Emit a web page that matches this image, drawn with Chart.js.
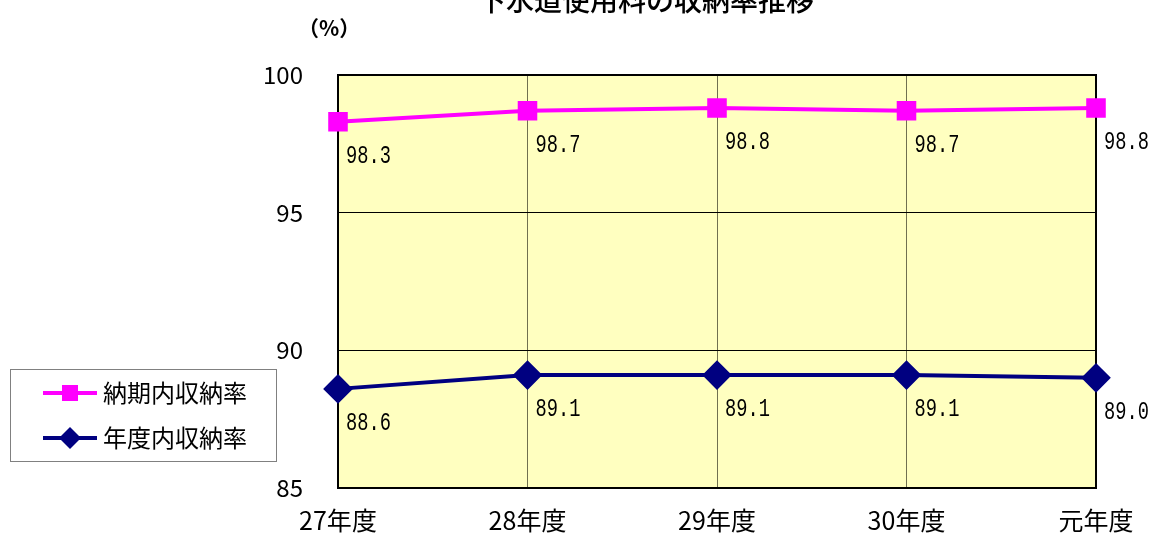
<!DOCTYPE html>
<html>
<head>
<meta charset="utf-8">
<script src="https://cdn.jsdelivr.net/npm/chart.js@4"></script>
<style>
  html, body { margin: 0; padding: 0; background: #fff; }
  #wrap { width: 1158px; height: 534px; }
</style>
</head>
<body>
<div id="wrap"><canvas id="rateChart" width="1158" height="534"></canvas></div>
<script>
const years = ['27年度', '28年度', '29年度', '30年度', '元年度'];
const nokiRate = [98.3, 98.7, 98.8, 98.7, 98.8];   // 納期内収納率
const nendoRate = [88.6, 89.1, 89.1, 89.1, 89.0];  // 年度内収納率
const yTicks = [85, 90, 95, 100];
const titleText = '下水道使用料の収納率推移';
const unitText = '（%）';

const jp = '"Noto Sans CJK JP", "Noto Sans", sans-serif';

// 背景・枠・タイトル・凡例・数値ラベル
const decor = {
    id: 'decor',
    beforeDraw(chart) {
        const { ctx, chartArea: a } = chart;
        ctx.save();
        ctx.fillStyle = '#ffffc0';
        ctx.fillRect(a.left, a.top, a.right - a.left, a.bottom - a.top);
        ctx.restore();
    },
    beforeDatasetsDraw(chart) {
        const { ctx, chartArea: a } = chart;
        ctx.save();
        ctx.strokeStyle = '#000';
        ctx.lineWidth = 2;
        ctx.strokeRect(a.left, a.top, a.right - a.left, a.bottom - a.top);
        ctx.restore();
    },
    afterDraw(chart) {
        const { ctx } = chart;
        ctx.save();
        // title (top is clipped in the original)
        ctx.fillStyle = '#000';
        ctx.font = '500 28px ' + jp;
        ctx.textAlign = 'center';
        ctx.textBaseline = 'middle';
        ctx.fillText(titleText, 646, 0);
        // unit
        ctx.font = 'bold 21px ' + jp;
        ctx.textAlign = 'left';
        ctx.fillText(unitText, 298, 28);

        // data labels (narrow monospace look)
        ctx.font = '26px "Liberation Mono", "DejaVu Sans Mono", monospace';
        ctx.textAlign = 'left';
        chart.data.datasets.forEach((ds, i) => {
            const meta = chart.getDatasetMeta(i);
            meta.data.forEach((pt, j) => {
                ctx.save();
                ctx.translate(pt.x + 8, pt.y + 34);
                ctx.scale(0.72, 1);
                ctx.fillText(ds.data[j].toFixed(1), 0, 0);
                ctx.restore();
            });
        });

        // legend
        ctx.strokeStyle = '#808080';
        ctx.lineWidth = 1;
        ctx.strokeRect(10.5, 369.5, 266, 92);
        const rows = [393, 438];
        chart.data.datasets.forEach((ds, i) => {
            const y = rows[i];
            ctx.strokeStyle = ds.borderColor;
            ctx.lineWidth = 4;
            ctx.beginPath();
            ctx.moveTo(43, y);
            ctx.lineTo(97, y);
            ctx.stroke();
            ctx.fillStyle = ds.borderColor;
            if (ds.pointStyle === 'rect') {
                ctx.fillRect(62, y - 8, 16, 16);
            } else {
                ctx.beginPath();
                ctx.moveTo(70, y - 11);
                ctx.lineTo(81, y);
                ctx.lineTo(70, y + 11);
                ctx.lineTo(59, y);
                ctx.closePath();
                ctx.fill();
            }
            ctx.fillStyle = '#000';
            ctx.font = '24px ' + jp;
            ctx.textBaseline = 'middle';
            ctx.fillText(ds.label, 103, y);
        });
        ctx.restore();
    }
};

const ctx = document.getElementById('rateChart').getContext('2d');
const myChart = new Chart(ctx, {
    type: 'line',
    data: {
        labels: years,
        datasets: [
            {
                label: '納期内収納率',
                data: nokiRate,
                borderColor: '#ff00ff',
                backgroundColor: '#ff00ff',
                borderWidth: 4,
                pointStyle: 'rect',
                pointRadius: 11,
                pointHoverRadius: 11,
                tension: 0,
                fill: false,
            },
            {
                label: '年度内収納率',
                data: nendoRate,
                borderColor: '#000080',
                backgroundColor: '#000080',
                borderWidth: 4,
                pointStyle: 'rectRot',
                pointRadius: 12,
                pointHoverRadius: 12,
                tension: 0,
                fill: false,
            },
        ],
    },
    options: {
        responsive: false,
        animation: false,
        devicePixelRatio: 1,
        layout: { padding: { top: 75, right: 62, left: 0, bottom: 0 } },
        plugins: {
            legend: { display: false },
            tooltip: { enabled: false },
        },
        scales: {
            x: {
                offset: false,
                grid: { color: '#707050', lineWidth: 1, drawTicks: false },
                border: { display: false },
                ticks: { color: '#000', font: { family: jp, size: 25 }, padding: 17, maxRotation: 0 },
                afterFit(s) { s.height = 46; s.paddingLeft = 0; s.paddingRight = 0; },
            },
            y: {
                min: 85,
                max: 100,
                afterBuildTicks(s) { s.ticks = yTicks.map(v => ({ value: v })); },
                grid: { color: '#000', lineWidth: 1, drawTicks: false },
                border: { display: false },
                ticks: { color: '#000', font: { family: jp, size: 24 }, padding: 35 },
                afterFit(s) { s.width = 338; s.paddingTop = 0; s.paddingBottom = 0; },
            },
        },
    },
    plugins: [decor],
});
</script>
</body>
</html>
